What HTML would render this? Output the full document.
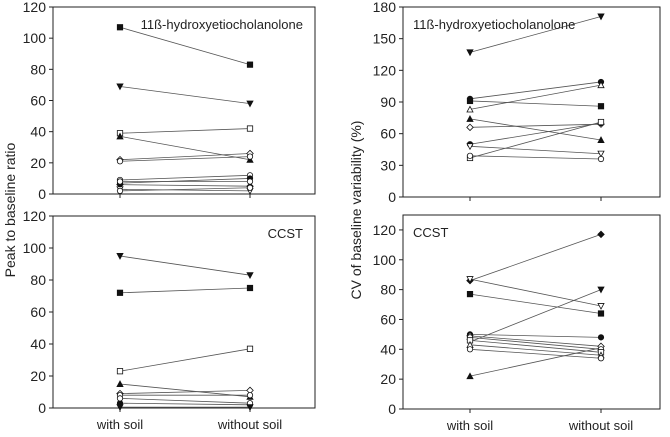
<!DOCTYPE html>
<html><head><meta charset="utf-8"><style>
body{margin:0;background:#fff}
svg text{font-family:"Liberation Sans",sans-serif;fill:#222}
</style></head><body>
<svg id="c" width="670" height="432" viewBox="0 0 670 432" xmlns="http://www.w3.org/2000/svg"></svg>
<script>
const categories = ["with soil","without soil"];
const tlWith    = [107,69,39,37,22,21,9,7,6,8,3,2];
const tlWithout = [83,58,42,22,26,24,12,10,5,8,2,4];
const trWith    = [137,93,83,91,74,66,50,48,37,39];
const trWithout = [171,109,106,86,54,69,70,41,71,36];
const blWith    = [95,72,23,15,9,8,3,6,0.5];
const blWithout = [83,75,37,7,11,8,2,3,0.5];
const brWith    = [86,87,77,22,45,50,49,48,46,43,40];
const brWithout = [117,69,64,41,80,48,42,40,38,36,34];
const markersL = ["sq","dt","osq","tri","odia","ocir","ocir","cir","dia","ocir","odt","ocir"];
const markersBL = ["dt","sq","osq","tri","odia","ocir","cir","ocir","dt"];
const markersR = ["dt","cir","otri","sq","tri","odia","cir","odt","osq","ocir","odia"];
const markersBR = ["dia","odt","sq","tri","dt","cir","odia","ocir","osq","otri","ocir"];
const tlTicks=[0,20,40,60,80,100,120], trTicks=[0,30,60,90,120,150,180];
const blTicks=[0,20,40,60,80,100,120], brTicks=[0,20,40,60,80,100,120];
const NS="http://www.w3.org/2000/svg", svg=document.getElementById('c');
function el(t,a,p){const e=document.createElementNS(NS,t);for(const k in a)e.setAttribute(k,a[k]);(p||svg).appendChild(e);return e;}
function marker(g,type,x,y){
  const f=type[0]==='o'?'#fff':'#111', t=type.replace(/^o/,''); let e;
  if(t==='sq') e=el('rect',{x:x-2.7,y:y-2.7,width:5.4,height:5.4},g);
  else if(t==='cir') e=el('circle',{cx:x,cy:y,r:2.7},g);
  else if(t==='tri') e=el('polygon',{points:`${x},${y-3} ${x+3},${y+2.6} ${x-3},${y+2.6}`},g);
  else if(t==='dt') e=el('polygon',{points:`${x},${y+3} ${x+3},${y-2.6} ${x-3},${y-2.6}`},g);
  else e=el('polygon',{points:`${x},${y-3.2} ${x+3.2},${y} ${x},${y+3.2} ${x-3.2},${y}`},g);
  e.setAttribute('fill',f);e.setAttribute('stroke','#111');e.setAttribute('stroke-width','0.8');
  
  
}
function panel(name,box,xs,ymax,ticks,w,wo,marks,label,lx,anchor,xlabels){
  const g=el('g',{});
  
  
  const [L,T,R,B]=box, ys=v=>B-(v/ymax)*(B-T);
  const r=el('rect',{x:L,y:T,width:R-L,height:B-T,fill:'none',stroke:'#222','stroke-width':1},g);
  
  
  ticks.forEach(t=>{
    el('line',{x1:L-4,x2:L,y1:ys(t),y2:ys(t),stroke:'#222'},g);
    const tx=el('text',{x:L-7,y:ys(t)+5,'text-anchor':'end','font-size':14},g);tx.textContent=t;
    
    
  });
  xs.forEach(x=>el('line',{x1:x,x2:x,y1:B,y2:B+4,stroke:'#222'},g));
  if(xlabels) categories.forEach((c,i)=>{
    const tx=el('text',{x:xs[i],y:B+21,'text-anchor':'middle','font-size':13},g);tx.textContent=c;
    
    
  });
  w.forEach((v,i)=>{
    const ln=el('line',{x1:xs[0],y1:ys(v),x2:xs[1],y2:ys(wo[i]),stroke:'#555','stroke-width':0.8},g);
    
    
  });
  w.forEach((v,i)=>{marker(g,marks[i%marks.length],xs[0],ys(v));marker(g,marks[i%marks.length],xs[1],ys(wo[i]));});
  const tt=el('text',{x:lx,y:T+22,'text-anchor':anchor,'font-size':13},g);tt.textContent=label;
  
  
}
panel('panel-top-left',[53,7,315,194],[120,250],120,tlTicks,tlWith,tlWithout,markersL,'11ß-hydroxyetiocholanolone',303,'end',false);
panel('panel-bottom-left',[53,216,315,408],[120,250],120,blTicks,blWith,blWithout,markersBL,'CCST',303,'end',true);
panel('panel-top-right',[403,7,660,197],[470,601],180,trTicks,trWith,trWithout,markersR,'11ß-hydroxyetiocholanolone',413,'start',false);
panel('panel-bottom-right',[403,215,660,409],[470,601],130,brTicks,brWith,brWithout,markersBR,'CCST',413,'start',true);
const a1=el('text',{x:0,y:0,'text-anchor':'middle','font-size':14,transform:'translate(15,210) rotate(-90)'});a1.textContent='Peak to baseline ratio';


const a2=el('text',{x:0,y:0,'text-anchor':'middle','font-size':14,transform:'translate(361,210) rotate(-90)'});a2.textContent='CV of baseline variability (%)';


</script>
</body></html>
